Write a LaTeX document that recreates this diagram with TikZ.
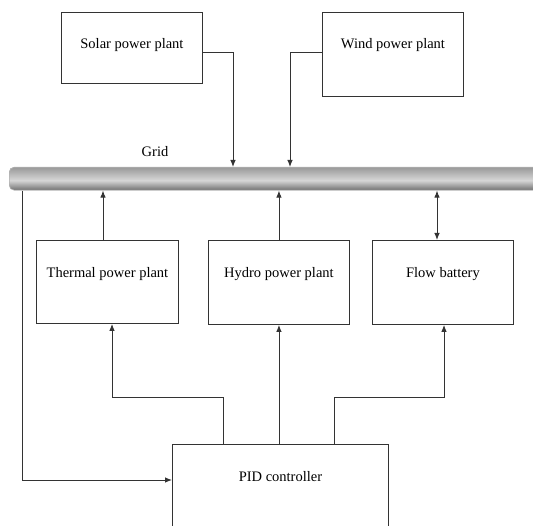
\documentclass[tikz,border=0pt]{standalone}
\usepackage{fontspec}
\setmainfont{Liberation Serif}
\usetikzlibrary{arrows.meta}
\begin{document}
\begin{tikzpicture}[x=1pt,y=-1pt,
  boxnode/.style={draw=black!80, line width=0.9pt, inner sep=0pt, anchor=north west,
    font=\fontsize{14.5}{17}\selectfont, text=black},
  conn/.style={draw=black!80, line width=0.9pt},
  arr/.style={conn, -{Latex[length=7pt,width=5.5pt]}},
  darr/.style={conn, {Latex[length=7pt,width=5.5pt]}-{Latex[length=7pt,width=5.5pt]}}]
\useasboundingbox (0,0) rectangle (533,526);
\clip (0,0) rectangle (533,526);
% boxes
\node[boxnode, minimum width=141pt, text height=36pt, text depth=35pt] (solar) at (61,12) {Solar power plant};
\node[boxnode, minimum width=141pt, text height=36pt, text depth=48pt] (wind) at (322,12) {Wind power plant};
\node[boxnode, minimum width=142pt, text height=37pt, text depth=46pt] (thermal) at (36,240) {Thermal power plant};
\node[boxnode, minimum width=141pt, text height=37pt, text depth=47pt] (hydro) at (208,240) {Hydro power plant};
\node[boxnode, minimum width=141pt, text height=37pt, text depth=47pt] (battery) at (372,240) {Flow battery};
\node[boxnode, minimum width=216pt, text height=37pt, text depth=70pt] (pid) at (172,444) {PID controller};
% grid bar shading
\begin{scope}
\clip[rounded corners=5pt] (9,167) rectangle (549,190);
\foreach \i in {0,...,22}{
  \pgfmathsetmacro\gt{(\i+0.5)/23}
  \pgfmathtruncatemacro\gv{\gt<0.6 ? 150+65*\gt/0.6 : 215-95*(\gt-0.6)/0.4}
  \fill[fill={rgb,255:red,\gv;green,\gv;blue,\gv}] (9,167+\i) rectangle (549,168.3+\i);
}
\end{scope}
\node[draw=gray!60, line width=0.6pt, rounded corners=5pt, anchor=north west, inner sep=0pt,
  minimum width=540pt, minimum height=23pt] (grid) at (9,167) {};
\node[font=\fontsize{14.5}{17}\selectfont, text=black] (gridlabel) at (155,152) {Grid};
% coordinates
\coordinate (s1) at (233,52);
\coordinate (w1) at (290,52);
\coordinate (xt) at (103,0);
\coordinate (xb) at (437,0);
\coordinate (g1) at (22,0);
\coordinate (l1) at (22,480);
\coordinate (k1) at (223,397);
\coordinate (k2) at (112,397);
\coordinate (k3) at (334,397);
\coordinate (k4) at (444,397);
% top connectors
\draw[arr] (solar.east |- s1) -- (s1) -- (grid.north -| s1);
\draw[arr] (wind.west |- w1) -- (w1) -- (grid.north -| w1);
% to grid
\draw[arr] (thermal.north -| xt) -- (grid.south -| xt);
\draw[arr] (hydro.north) -- (grid.south -| hydro.north);
\draw[darr] (battery.north -| xb) -- (grid.south -| xb);
% grid to PID
\draw[arr] (grid.south -| g1) -- (l1) -- (pid.west |- l1);
% PID to plants
\draw[arr] (pid.north -| k1) -- (k1) -- (k2) -- (thermal.south -| k2);
\draw[arr] (hydro.south |- pid.north) -- (hydro.south);
\draw[arr] (pid.north -| k3) -- (k3) -- (k4) -- (battery.south -| k4);
\end{tikzpicture}
\end{document}
